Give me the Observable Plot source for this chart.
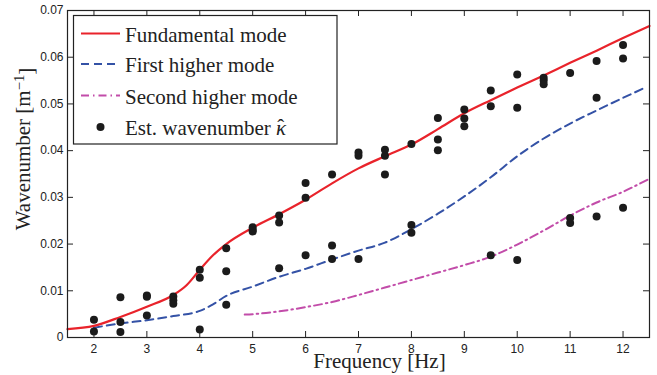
<!DOCTYPE html>
<html>
<head>
<meta charset="utf-8">
<script src="https://cdn.jsdelivr.net/npm/d3@7"></script>
<script src="https://cdn.jsdelivr.net/npm/@observablehq/plot@0.6"></script>
<style>
  html, body { margin: 0; padding: 0; background: white; }
</style>
</head>
<body>
<div id="chart"></div>
<script>
// ---- Data ----
const xTicks = [2, 3, 4, 5, 6, 7, 8, 9, 10, 11, 12];
const yTicks = [0, 0.01, 0.02, 0.03, 0.04, 0.05, 0.06, 0.07];
const yTickLabels = ["0", "0.01", "0.02", "0.03", "0.04", "0.05", "0.06", "0.07"];

const fundFreq = [1.5, 2, 2.5, 3, 3.5, 3.75, 4, 4.25, 4.5, 5, 5.5, 6, 6.5, 7, 7.5, 8, 8.5, 9, 9.5, 10, 10.5, 11, 11.5, 12, 12.5];
const fundK    = [0.0018, 0.0025, 0.0044, 0.0066, 0.0091, 0.0112, 0.0145, 0.0176, 0.0200, 0.0235, 0.0264, 0.0295, 0.0330, 0.0362, 0.0388, 0.0413, 0.0446, 0.0480, 0.0508, 0.0535, 0.0561, 0.0588, 0.0614, 0.0641, 0.0667];

const firstFreq = [2, 2.5, 3, 3.5, 4, 4.25, 4.5, 5, 5.5, 6, 6.5, 7, 7.5, 8, 8.5, 9, 9.5, 10, 10.5, 11, 11.5, 12, 12.4];
const firstK    = [0.0021, 0.0030, 0.0037, 0.0046, 0.0057, 0.0071, 0.0089, 0.0109, 0.0130, 0.0147, 0.0167, 0.0186, 0.0203, 0.0232, 0.0265, 0.0302, 0.0343, 0.0388, 0.0426, 0.0458, 0.0486, 0.0513, 0.0534];

const secondFreq = [4.85, 5, 5.5, 6, 6.5, 7, 7.5, 8, 8.5, 9, 9.5, 10, 10.5, 11, 11.5, 12, 12.5];
const secondK    = [0.0049, 0.0050, 0.0056, 0.0065, 0.0076, 0.0091, 0.0107, 0.0123, 0.0139, 0.0155, 0.0173, 0.0199, 0.0229, 0.0261, 0.0289, 0.0312, 0.0340];

const estFreq = [2, 2, 2.5, 2.5, 2.5, 3, 3, 3, 3.5, 3.5, 3.5, 4, 4, 4, 4.5, 4.5, 4.5, 5, 5, 5, 5.5, 5.5, 5.5, 6, 6, 6, 6.5, 6.5, 6.5, 7, 7, 7, 7.5, 7.5, 7.5, 8, 8, 8, 8.5, 8.5, 8.5, 9, 9, 9, 9.5, 9.5, 9.5, 10, 10, 10, 10.5, 10.5, 10.5, 11, 11, 11, 11.5, 11.5, 11.5, 12, 12, 12];
const estK    = [0.0038, 0.0013, 0.0086, 0.0033, 0.0012, 0.0090, 0.0087, 0.0047, 0.0088, 0.0080, 0.0072, 0.0145, 0.0128, 0.0017, 0.0191, 0.0142, 0.0070, 0.0236, 0.0230, 0.0227, 0.0261, 0.0246, 0.0148, 0.0331, 0.0299, 0.0176, 0.0349, 0.0197, 0.0168, 0.0396, 0.0389, 0.0168, 0.0402, 0.0389, 0.0349, 0.0414, 0.0241, 0.0224, 0.0470, 0.0424, 0.0401, 0.0488, 0.0469, 0.0452, 0.0529, 0.0495, 0.0176, 0.0563, 0.0492, 0.0166, 0.0556, 0.0550, 0.0542, 0.0566, 0.0256, 0.0245, 0.0592, 0.0513, 0.0259, 0.0626, 0.0597, 0.0278];

const seriesNames = ["Fundamental mode", "First higher mode", "Second higher mode", "Est. wavenumber"];
const xLabel = "Frequency [Hz]";
const yLabel = "Wavenumber [m−1]";

// ---- Tables ----
const fund = fundFreq.map((f, i) => ({f, k: fundK[i]}));
const first = firstFreq.map((f, i) => ({f, k: firstK[i]}));
const second = secondFreq.map((f, i) => ({f, k: secondK[i]}));
const est = estFreq.map((f, i) => ({f, k: estK[i]}));

const RED = "#e9232b", BLUE = "#3452a6", MAG = "#c24ca9", DOT = "#1b1b1b", AX = "#222";
const SERIF = "'Liberation Serif', 'Times New Roman', serif";

const W = 657, H = 375, mL = 67, mR = 8, mT = 10, mB = 38;
const fw = W - mL - mR, fh = H - mT - mB, tl = 6;

const chart = Plot.plot({
  width: W, height: H,
  marginLeft: mL, marginRight: mR, marginTop: mT, marginBottom: mB,
  x: {domain: [1.5, 12.5]},
  y: {domain: [0, 0.07]},
  style: {fontFamily: "'Liberation Sans', Arial, sans-serif", background: "white", color: AX},
  marks: [
    Plot.line(second, {x: "f", y: "k", stroke: MAG, strokeWidth: 2, strokeDasharray: "8,4,1.5,4", curve: "monotone-x"}),
    Plot.line(first, {x: "f", y: "k", stroke: BLUE, strokeWidth: 2, strokeDasharray: "8,5", curve: "monotone-x"}),
    Plot.line(fund, {x: "f", y: "k", stroke: RED, strokeWidth: 2.2, curve: "monotone-x"}),
    Plot.dot(est, {x: "f", y: "k", r: 4, fill: DOT, stroke: "none"}),
    Plot.frame({stroke: AX, strokeWidth: 1.2}),
    Plot.tickX(xTicks, {x: d => d, insetTop: fh - tl, stroke: AX}),
    Plot.tickX(xTicks, {x: d => d, insetBottom: fh - tl, stroke: AX}),
    Plot.tickY(yTicks, {y: d => d, insetRight: fw - tl, stroke: AX}),
    Plot.tickY(yTicks, {y: d => d, insetLeft: fw - tl, stroke: AX}),
    Plot.axisX(xTicks, {tickSize: 0, tickPadding: 7, fontSize: 12, label: null, fill: AX}),
    Plot.axisY(yTicks, {tickSize: 0, tickPadding: 4, fontSize: 12, label: null, fill: AX,
      tickFormat: d => yTickLabels[yTicks.indexOf(d)]}),
    Plot.text([xLabel], {frameAnchor: "bottom", textAnchor: "middle", lineAnchor: "middle", dy: 24, dx: 21, fontSize: 21, fontFamily: SERIF, fill: AX}),
    Plot.text([yLabel], {frameAnchor: "left", textAnchor: "middle", lineAnchor: "middle", dx: -44, dy: -25, rotate: -90, fontSize: 21, fontFamily: SERIF, fill: AX})
  ]
});

document.getElementById("chart").appendChild(chart);

// superscript in y label
const svg = d3.select(chart.tagName.toLowerCase() === "svg" ? chart : chart.querySelector("svg"));
svg.selectAll("text").filter(function() { return this.textContent === yLabel; }).each(function() {
  const t = d3.select(this);
  t.text(null);
  t.append("tspan").text("Wavenumber [m");
  t.append("tspan").attr("dy", "-0.45em").attr("font-size", "0.7em").text("−1");
  t.append("tspan").attr("dy", "0.45em").text("]");
});

// legend
const lg = svg.append("g").attr("font-family", SERIF).attr("font-size", 21).attr("fill", AX)
  .attr("text-anchor", "start");
lg.append("rect").attr("x", 73.5).attr("y", 15.5).attr("width", 263.5).attr("height", 128.5)
  .attr("fill", "white").attr("stroke", AX).attr("stroke-width", 1.2);
const rows = [33.5, 64, 95.5, 127];
const styles = [
  {stroke: RED, dash: null},
  {stroke: BLUE, dash: "8,5"},
  {stroke: MAG, dash: "8,4,1.5,4"},
  null
];
rows.forEach((yy, i) => {
  const s = styles[i];
  if (s) {
    lg.append("line").attr("x1", 81).attr("x2", 120).attr("y1", yy).attr("y2", yy)
      .attr("stroke", s.stroke).attr("stroke-width", 2).attr("stroke-dasharray", s.dash);
  } else {
    lg.append("circle").attr("cx", 100.5).attr("cy", yy).attr("r", 4).attr("fill", DOT);
  }
  const tx = lg.append("text").attr("x", 125).attr("y", yy + 8).attr("text-anchor", "start");
  tx.append("tspan").text(seriesNames[i]);
  if (i === 3) {
    tx.append("tspan").text(" ");
    tx.append("tspan").attr("font-style", "italic").text("κ");
    tx.append("tspan").attr("dx", "-0.42em").attr("dy", "-0.05em").text("ˆ");
  }
});
</script>
</body>
</html>
